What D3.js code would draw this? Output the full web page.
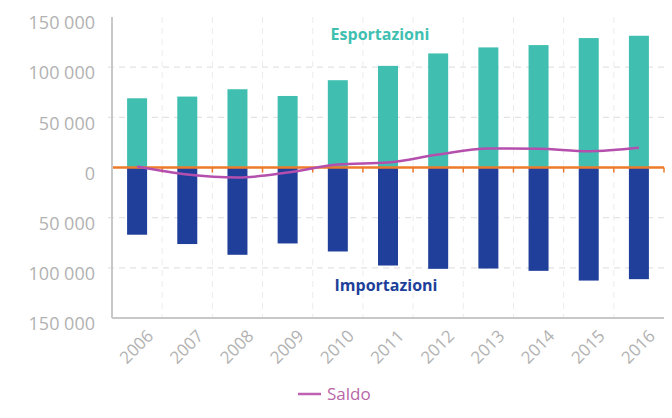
<!DOCTYPE html>
<html>
<head>
<meta charset="utf-8">
<script src="https://cdn.jsdelivr.net/npm/d3@7"></script>
<style>
  body { margin: 0; background: #fff; }
  svg text { font-family: "Open Sans", "DejaVu Sans", sans-serif; }
</style>
</head>
<body>
<div class="chart"></div>
<script>
// data
let years = ["2006", "2007", "2008", "2009", "2010", "2011", "2012", "2013", "2014", "2015", "2016"];
let esportazioni = [69000, 70700, 78000, 71300, 87000, 101300, 113700, 119700, 122000, 129000, 131300];
let importazioni = [-67000, -76300, -87000, -75700, -83700, -97700, -101000, -100700, -103000, -112700, -111300];
let saldo = [1000, -7000, -10000, -5000, 3000, 5000, 13000, 19000, 18700, 16300, 19700];
let yTicks = [150000, 100000, 50000, 0, -50000, -100000, -150000];

let svgWidth = 672;
let svgHeight = 418;

let margin = { top: 17, right: 8, bottom: 100, left: 112 };
let chartWidth = svgWidth - margin.left - margin.right;
let chartHeight = 318 - margin.top;

let svg = d3.select(".chart")
  .append("svg")
  .attr("width", svgWidth)
  .attr("height", svgHeight);

let chart = svg.append("g")
  .attr("transform", `translate(${margin.left}, ${margin.top})`);

let x = d3.scaleBand().domain(years).range([0, chartWidth]);
let y = d3.scaleLinear().domain([-150000, 150000]).range([chartHeight, 0]);

let fmt = d => d3.format(",")(Math.abs(d)).replace(/,/g, " ");

// horizontal dashed grid
chart.selectAll(".hgrid")
  .data(yTicks.filter(d => d !== 0 && Math.abs(d) !== 150000))
  .enter().append("line")
    .attr("x1", -4)
    .attr("x2", chartWidth)
    .attr("y1", d => y(d))
    .attr("y2", d => y(d))
    .attr("stroke", "#e3e3e3")
    .attr("stroke-width", 1.2)
    .attr("stroke-dasharray", "6,5");

// vertical dashed grid at band boundaries
chart.selectAll(".vgrid")
  .data(years.slice(1))
  .enter().append("line")
    .attr("x1", d => x(d))
    .attr("x2", d => x(d))
    .attr("y1", 0)
    .attr("y2", chartHeight)
    .attr("stroke", "#ececec")
    .attr("stroke-width", 1)
    .attr("stroke-dasharray", "6,5");

let barW = 20;

chart.selectAll(".exp")
  .data(esportazioni)
  .enter().append("rect")
    .attr("x", (d, i) => x(years[i]) + x.bandwidth() / 2 - barW / 2)
    .attr("y", d => y(d))
    .attr("width", barW)
    .attr("height", d => y(0) - y(d))
    .attr("fill", "#40bfb1");

chart.selectAll(".imp")
  .data(importazioni)
  .enter().append("rect")
    .attr("x", (d, i) => x(years[i]) + x.bandwidth() / 2 - barW / 2)
    .attr("y", y(0))
    .attr("width", barW)
    .attr("height", d => y(d) - y(0))
    .attr("fill", "#203f9a");

// orange zero line with small ticks
chart.append("line")
  .attr("x1", 0).attr("x2", chartWidth)
  .attr("y1", y(0)).attr("y2", y(0))
  .attr("stroke", "#ec7a2a")
  .attr("stroke-width", 2.5);

chart.selectAll(".otick")
  .data(years.slice(1).concat(["end"]))
  .enter().append("line")
    .attr("x1", d => d === "end" ? chartWidth : x(d))
    .attr("x2", d => d === "end" ? chartWidth : x(d))
    .attr("y1", y(0))
    .attr("y2", y(0) + 5)
    .attr("stroke", "#ec7a2a")
    .attr("stroke-width", 1.5);

// saldo line
let line = d3.line()
  .x((d, i) => x(years[i]) + x.bandwidth() / 2)
  .y(d => y(d))
  .curve(d3.curveMonotoneX);

chart.append("path")
  .datum(saldo)
  .attr("d", line)
  .attr("fill", "none")
  .attr("stroke", "#b54fae")
  .attr("stroke-width", 2.5);

// axes
chart.append("line")
  .attr("x1", 0).attr("x2", 0)
  .attr("y1", 0).attr("y2", chartHeight)
  .attr("stroke", "#c8c8c8")
  .attr("stroke-width", 2);

chart.append("line")
  .attr("x1", 0).attr("x2", chartWidth)
  .attr("y1", chartHeight).attr("y2", chartHeight)
  .attr("stroke", "#c8c8c8")
  .attr("stroke-width", 2);

chart.selectAll(".ylab")
  .data(yTicks)
  .enter().append("text")
    .attr("x", -17)
    .attr("y", d => y(d) + 6)
    .attr("dy", "0.35em")
    .attr("text-anchor", "end")
    .attr("fill", "#b2b2b2")
    .style("font-size", "18px")
    .text(d => fmt(d));

chart.selectAll(".xlab")
  .data(years)
  .enter().append("text")
    .attr("transform", d => `translate(${x(d) + x.bandwidth() / 2 + 13}, ${chartHeight + 15}) rotate(-45)`)
    .attr("text-anchor", "end")
    .attr("dy", "0.35em")
    .attr("fill", "#b2b2b2")
    .style("font-size", "17px")
    .text(d => d);

// series labels
chart.append("text")
  .attr("x", 380 - margin.left)
  .attr("y", 34 - margin.top)
  .attr("dy", "0.35em")
  .attr("text-anchor", "middle")
  .attr("fill", "#40bfb1")
  .style("font-size", "16px")
  .style("font-weight", "bold")
  .text("Esportazioni");

chart.append("text")
  .attr("x", 386 - margin.left)
  .attr("y", 285 - margin.top)
  .attr("dy", "0.35em")
  .attr("text-anchor", "middle")
  .attr("fill", "#203f9a")
  .style("font-size", "16px")
  .style("font-weight", "bold")
  .text("Importazioni");

// legend
let legend = svg.append("g").attr("transform", "translate(298, 394)");
legend.append("line")
  .attr("x1", 0).attr("x2", 23)
  .attr("stroke", "#c060b2")
  .attr("stroke-width", 2.5);
legend.append("text")
  .attr("x", 29)
  .attr("dy", "0.35em")
  .attr("fill", "#b866a8")
  .style("font-size", "17px")
  .text("Saldo");
</script>
</body>
</html>
